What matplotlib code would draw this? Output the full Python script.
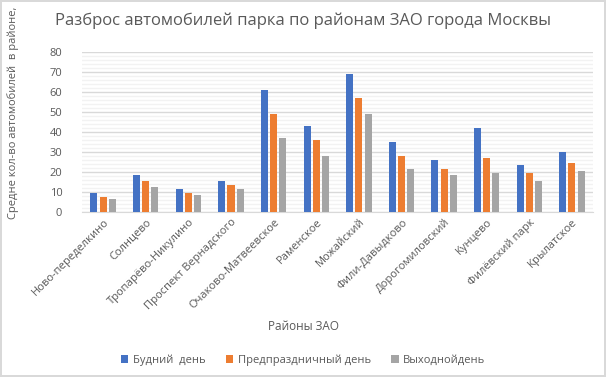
import numpy as np
import matplotlib.pyplot as plt
from matplotlib.ticker import MultipleLocator

plt.rcParams['font.family'] = ['Open Sans', 'DejaVu Sans']

districts = ['Ново-переделкино', 'Солнцево', 'Тропарёво-Никулино', 'Проспект Вернадского',
             'Очаково-Матвеевское', 'Раменское', 'Можайский', 'Фили-Давыдково',
             'Дорогомиловский', 'Кунцево', 'Филёвский парк', 'Крылатское']
weekday = [9.5, 18.5, 11.5, 15.5, 61, 43, 69, 35, 26, 42, 23.5, 30]
preholiday = [7.5, 15.5, 9.5, 13.5, 49, 36, 57, 28, 21.5, 27, 19.5, 24.5]
weekend = [6.5, 12.5, 8.5, 11.5, 37, 28, 49, 21.5, 18.5, 19.5, 15.5, 20.5]

series = [
    ('Будний  день', weekday, '#4472C4'),
    ('Предпраздничный день', preholiday, '#ED7D31'),
    ('Выходнойдень', weekend, '#A5A5A5'),
]

text_color = '#595959'

fig = plt.figure(figsize=(6.06, 3.77), dpi=100)
fig.patch.set_edgecolor('#D9D9D9')
fig.patch.set_linewidth(1.5)
ax = fig.add_axes([0.135, 0.438, 0.844, 0.424])

x = np.arange(len(districts))
width = 0.165
for i, (name, vals, color) in enumerate(series):
    ax.bar(x + (i - 1) * 0.215, vals, width, color=color, label=name, zorder=3)

ax.set_xlim(-0.5, len(districts) - 0.5)
ax.set_ylim(0, 80)
ax.yaxis.set_major_locator(MultipleLocator(10))
ax.yaxis.set_minor_locator(MultipleLocator(2))
ax.grid(axis='y', which='major', color='#D9D9D9', linewidth=1, zorder=0)
ax.grid(axis='y', which='minor', color='#F2F2F2', linewidth=1, zorder=0)
for s in ['top', 'right', 'left']:
    ax.spines[s].set_visible(False)
ax.spines['bottom'].set_color('#D9D9D9')
ax.tick_params(axis='both', which='both', length=0, colors=text_color, labelsize=8)
ax.tick_params(axis='y', pad=14)

ax.set_xticks(x)
ax.set_xticklabels(districts, rotation=45, ha='right', rotation_mode='anchor')

fig.text(0.5, 0.135, 'Районы ЗАО', color=text_color, fontsize=8.5,
         ha='center', va='center')
fig.text(0.022, 0.70, 'Средне кол-во автомобилей  в районе,', rotation=90,
         color=text_color, fontsize=8, ha='center', va='center')
fig.text(0.5, 0.945, 'Разброс автомобилей парка по районам ЗАО города Москвы',
         color=text_color, fontsize=12, ha='center', va='center')

fig.legend(loc='center', bbox_to_anchor=(0.5, 0.045), ncol=3, frameon=False,
           fontsize=8, labelcolor=text_color, handlelength=0.7, handleheight=0.7,
           columnspacing=1.8, handletextpad=0.4)

fig.savefig('out.png', dpi=100)
